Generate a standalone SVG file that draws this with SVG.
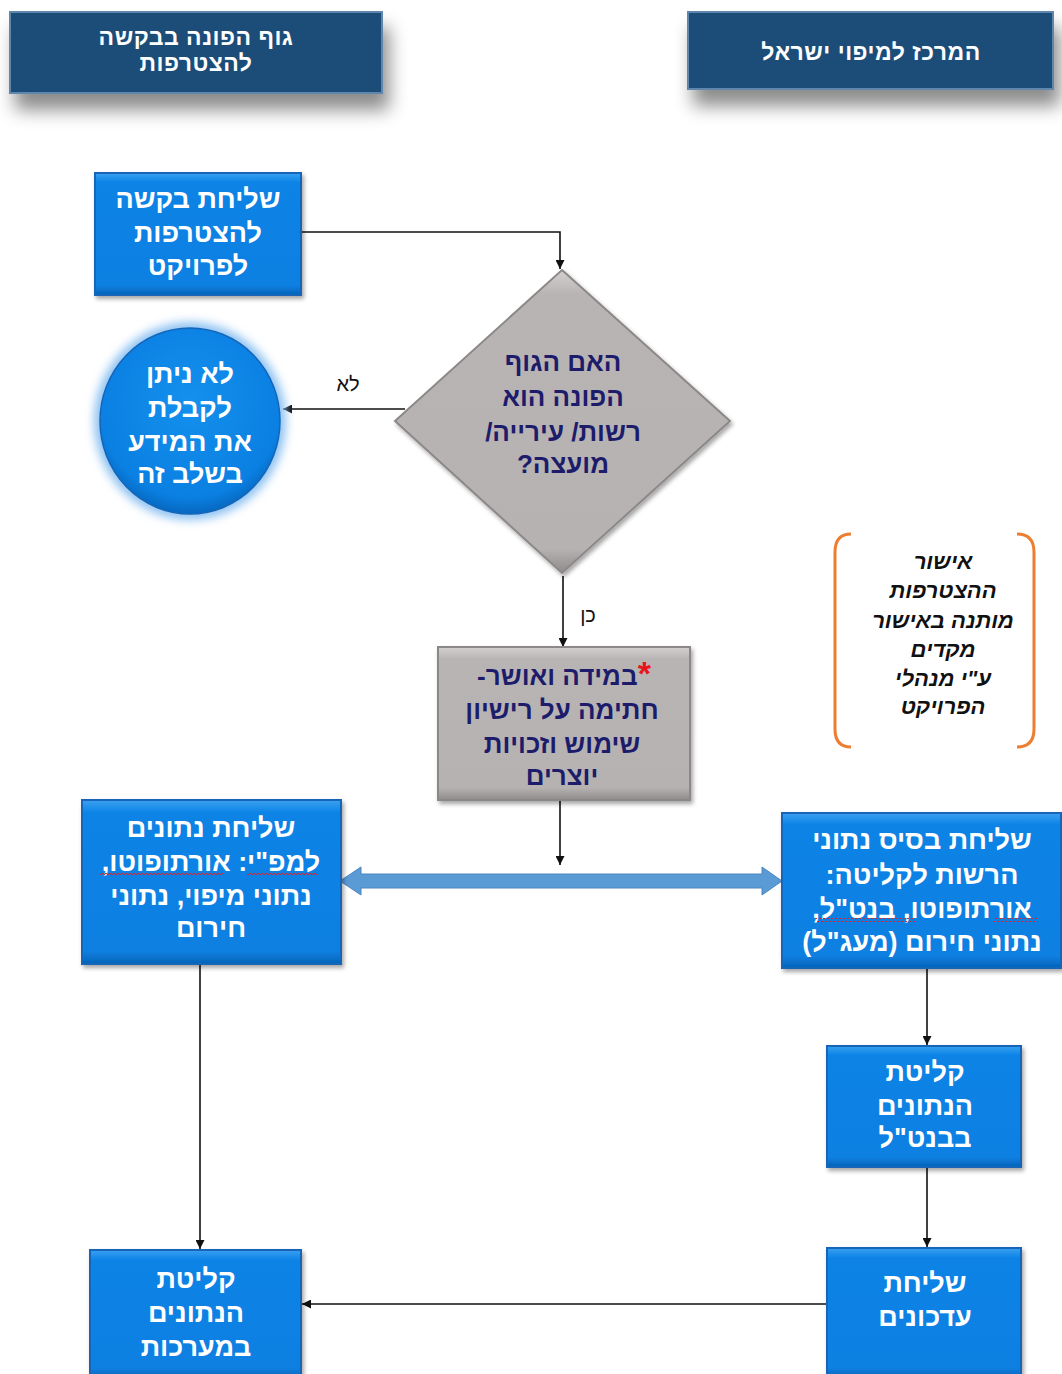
<svg xmlns="http://www.w3.org/2000/svg" width="1062" height="1374" viewBox="0 0 1062 1374">
<style>
  text { font-family: "Liberation Sans", Arial, "DejaVu Sans", sans-serif; direction: rtl; text-anchor: middle; }
  .hdr { fill: #ffffff; font-size: 23px; font-weight: bold; letter-spacing: 0.5px; }
  .wt { fill: #ffffff; font-size: 27px; font-weight: bold; }
  .nv { fill: #1c1c6b; font-size: 26px; font-weight: bold; }
  .note { fill: #111111; font-size: 22px; font-style: italic; font-weight: bold; }
  .lbl { fill: #111111; font-size: 20px; }
  .line { stroke: #111111; stroke-width: 1.6; fill: none; }
  .blue { fill: url(#gBlue); stroke: #1565b8; stroke-width: 2; }
  .gray { fill: url(#gGray); stroke: #8c8888; stroke-width: 2; }
  .head { fill: #1f4e79; stroke: #5f87ad; stroke-width: 2; }
</style>
<defs>
  <linearGradient id="gBlue" x1="0" y1="0" x2="0" y2="1">
    <stop offset="0" stop-color="#3aa0f0"/>
    <stop offset="0.08" stop-color="#0a83e6"/>
    <stop offset="0.92" stop-color="#0a80e2"/>
    <stop offset="1" stop-color="#0563b8"/>
  </linearGradient>
  <linearGradient id="gGray" x1="0" y1="0" x2="0" y2="1">
    <stop offset="0" stop-color="#d4d0d0"/>
    <stop offset="0.08" stop-color="#b8b4b4"/>
    <stop offset="0.92" stop-color="#b6b2b2"/>
    <stop offset="1" stop-color="#8f8b8b"/>
  </linearGradient>
  <radialGradient id="gCirc" cx="0.5" cy="0.4" r="0.6">
    <stop offset="0" stop-color="#1490ee"/>
    <stop offset="0.85" stop-color="#0a80e2"/>
    <stop offset="1" stop-color="#0668c0"/>
  </radialGradient>
  <filter id="hShadow" x="-20%" y="-30%" width="140%" height="200%">
    <feDropShadow dx="6" dy="16" stdDeviation="9" flood-color="#000" flood-opacity="0.45"/>
  </filter>
  <filter id="bShadow" x="-10%" y="-10%" width="120%" height="125%">
    <feDropShadow dx="2" dy="3" stdDeviation="2" flood-color="#000" flood-opacity="0.35"/>
  </filter>
  <filter id="glow" x="-30%" y="-30%" width="160%" height="160%">
    <feGaussianBlur stdDeviation="5"/>
  </filter>
  <pattern id="wave" width="4" height="4" patternUnits="userSpaceOnUse">
    <path d="M0 3 L2 1 L4 3" stroke="#e02020" stroke-width="1" fill="none"/>
  </pattern>
  <marker id="arr" viewBox="0 0 10 10" refX="10" refY="5" markerWidth="9" markerHeight="9" markerUnits="userSpaceOnUse" orient="auto">
    <path d="M0 0 L10 5 L0 10 z" fill="#111"/>
  </marker>
</defs>

<g id="connectors">
  <path class="line" d="M301 232 H560 V269" marker-end="url(#arr)"/>
  <path class="line" d="M405 409 H283" marker-end="url(#arr)"/>
  <path class="line" d="M563 576 V647" marker-end="url(#arr)"/>
  <path class="line" d="M560 800 V865" marker-end="url(#arr)"/>
  <polygon points="340,881 361,867 361,874 762,874 762,867 782,881 762,895 762,888 361,888 361,895" fill="#5b9bd5" stroke="#4a86c0" stroke-width="1"/>
  <path class="line" d="M200 950 V1249" marker-end="url(#arr)"/>
  <path class="line" d="M927 968 V1045" marker-end="url(#arr)"/>
  <path class="line" d="M927 1167 V1247" marker-end="url(#arr)"/>
  <path class="line" d="M827 1304 H302" marker-end="url(#arr)" stroke-width="2"/>
  <text class="lbl" x="348" y="391">לא</text>
  <text class="lbl" x="588" y="622">כן</text>
</g>

<g id="header-left">
  <rect class="head" x="10" y="12" width="372" height="81" filter="url(#hShadow)"/>
  <text class="hdr" x="196" y="45">גוף הפונה בבקשה</text>
  <text class="hdr" x="196" y="71">להצטרפות</text>
</g>

<g id="header-right">
  <rect class="head" x="688" y="12" width="365" height="77" filter="url(#hShadow)"/>
  <text class="hdr" x="871" y="60" font-size="26">המרכז למיפוי ישראל</text>
</g>

<g id="send-request">
  <rect class="blue" x="95" y="173" width="206" height="122" filter="url(#bShadow)"/>
  <text class="wt" x="198" y="208">שליחת בקשה</text>
  <text class="wt" x="198" y="242">להצטרפות</text>
  <text class="wt" x="198" y="275">לפרויקט</text>
</g>

<g id="decision">
  <polygon points="562,270 730,421 562,573 395,421" class="gray" filter="url(#bShadow)"/>
  <text class="nv" x="563" y="371">האם הגוף</text>
  <text class="nv" x="563" y="406">הפונה הוא</text>
  <text class="nv" x="563" y="441">רשות/ עירייה/</text>
  <text class="nv" x="563" y="473">מועצה?</text>
</g>

<g id="not-possible">
  <ellipse cx="190" cy="421" rx="96" ry="99" fill="#8ec2f2" filter="url(#glow)"/>
  <ellipse cx="190" cy="421" rx="90" ry="93" fill="url(#gCirc)" stroke="#1565b8" stroke-width="1.5"/>
  <text class="wt" x="190" y="383">לא ניתן</text>
  <text class="wt" x="190" y="417">לקבלת</text>
  <text class="wt" x="190" y="451">את המידע</text>
  <text class="wt" x="190" y="483">בשלב זה</text>
</g>

<g id="license">
  <rect class="gray" x="438" y="647" width="252" height="153" filter="url(#bShadow)"/>
  <text class="nv" x="564" y="685" font-size="27"><tspan fill="#e8141e" font-size="34">*</tspan>במידה ואושר-</text>
  <text class="nv" x="562" y="719" font-size="27">חתימה על רישיון</text>
  <text class="nv" x="562" y="753" font-size="27">שימוש וזכויות</text>
  <text class="nv" x="562" y="785" font-size="27">יוצרים</text>
</g>

<g id="note">
  <path d="M851 534 Q835 534 835 552 V729 Q835 747 851 747" stroke="#ed7d31" stroke-width="3" fill="none"/>
  <path d="M1017 534 Q1034 534 1034 552 V729 Q1034 747 1017 747" stroke="#ed7d31" stroke-width="3" fill="none"/>
  <text class="note" x="943" y="569">אישור</text>
  <text class="note" x="943" y="598">ההצטרפות</text>
  <text class="note" x="943" y="628">מותנה באישור</text>
  <text class="note" x="943" y="657">מקדים</text>
  <text class="note" x="943" y="686">ע"י מנהלי</text>
  <text class="note" x="943" y="714">הפרויקט</text>
</g>

<g id="send-to-mapi">
  <rect class="blue" x="82" y="800" width="259" height="164" filter="url(#bShadow)"/>
  <text class="wt" x="211" y="837">שליחת נתונים</text>
  <text class="wt" x="211" y="871">למפ"י: אורתופוטו,</text>
  <text class="wt" x="211" y="905">נתוני מיפוי, נתוני</text>
  <text class="wt" x="211" y="937">חירום</text>
  <rect x="100" y="873" width="123" height="4" fill="url(#wave)"/>
  <rect x="247" y="873" width="71" height="4" fill="url(#wave)"/>
</g>

<g id="send-db">
  <rect class="blue" x="782" y="813" width="279" height="155" filter="url(#bShadow)"/>
  <text class="wt" x="922" y="849">שליחת בסיס נתוני</text>
  <text class="wt" x="922" y="884">הרשות לקליטה:</text>
  <text class="wt" x="922" y="918">אורתופוטו, בנט"ל,</text>
  <text class="wt" x="922" y="951">נתוני חירום (מעג"ל)</text>
  <rect x="815" y="918" width="100" height="4" fill="url(#wave)"/>
  <rect x="994" y="918" width="44" height="4" fill="url(#wave)"/>
</g>

<g id="absorb-bntl">
  <rect class="blue" x="827" y="1046" width="194" height="121" filter="url(#bShadow)"/>
  <text class="wt" x="925" y="1081">קליטת</text>
  <text class="wt" x="925" y="1115">הנתונים</text>
  <text class="wt" x="925" y="1147">בבנט"ל</text>
</g>

<g id="send-updates">
  <rect class="blue" x="827" y="1248" width="194" height="130" filter="url(#bShadow)"/>
  <text class="wt" x="925" y="1292">שליחת</text>
  <text class="wt" x="925" y="1326">עדכונים</text>
</g>

<g id="absorb-systems">
  <rect class="blue" x="90" y="1250" width="211" height="128" filter="url(#bShadow)"/>
  <text class="wt" x="196" y="1288">קליטת</text>
  <text class="wt" x="196" y="1322">הנתונים</text>
  <text class="wt" x="196" y="1356">במערכות</text>
</g>
</svg>
